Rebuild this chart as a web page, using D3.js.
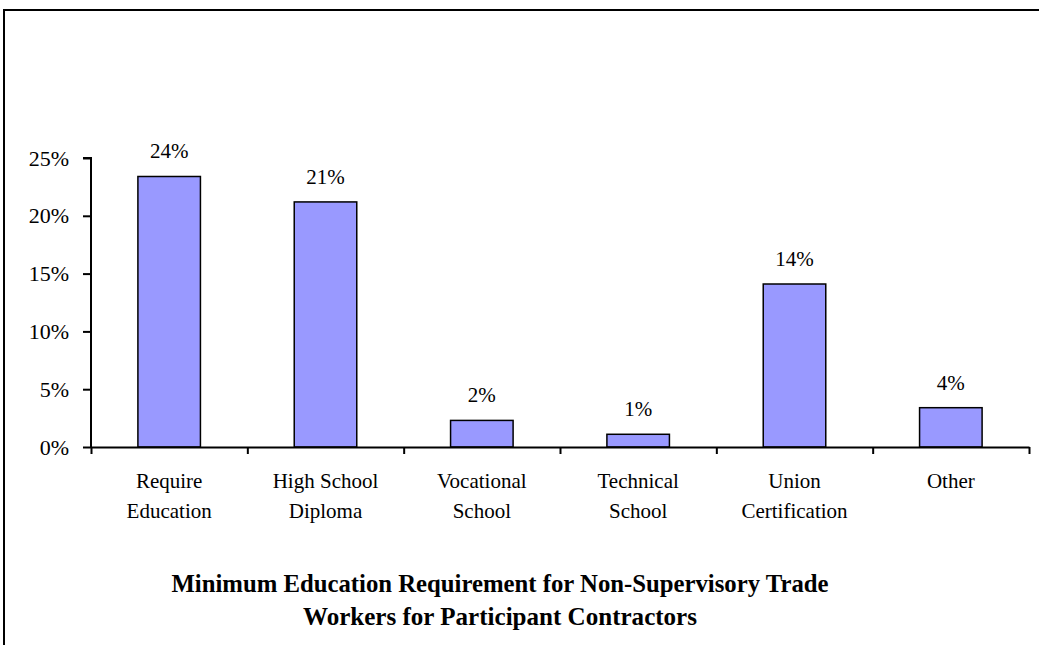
<!DOCTYPE html>
<html><head><meta charset="utf-8">
<script src="https://cdn.jsdelivr.net/npm/d3@7"></script>
<style>html,body{margin:0;padding:0;background:#fff;overflow:hidden}</style>
</head><body>
<script>
const categories = [["Require","Education"],["High School","Diploma"],["Vocational","School"],["Technical","School"],["Union","Certification"],["Other"]];
const values = [23.4, 21.2, 2.3, 1.1, 14.1, 3.4];
const valueLabels = ["24%","21%","2%","1%","14%","4%"];
const yTicks = [0,5,10,15,20,25];
const titleLines = ["Minimum Education Requirement for Non-Supervisory Trade","Workers for Participant Contractors"];

const W = 1039, H = 645;
const svg = d3.select("body").append("svg").attr("width", W).attr("height", H);
const font = "'Liberation Serif','Times New Roman',serif";

svg.append("rect").attr("x",4).attr("y",10).attr("width",1100).attr("height",700)
  .attr("fill","none").attr("stroke","#000").attr("stroke-width",2);

const x0 = 91, x1 = 1029, yBase = 447, yTop = 158;
const x = d3.scaleBand().domain(d3.range(categories.length)).range([x0, x1]).paddingInner(0.6).paddingOuter(0.3);
const y = d3.scaleLinear().domain([0,25]).range([yBase, yTop]);

// bars
svg.selectAll("rect.bar").data(values).join("rect").attr("class","bar")
  .attr("x",(d,i)=>x(i)).attr("width",x.bandwidth())
  .attr("y",d=>y(d)).attr("height",d=>yBase-y(d))
  .attr("fill","#9999ff").attr("stroke","#000").attr("stroke-width",1.5);

// value labels
svg.selectAll("text.vl").data(values).join("text").attr("class","vl")
  .attr("x",(d,i)=>x(i)+x.bandwidth()/2).attr("y",d=>y(d)-18)
  .attr("text-anchor","middle").style("font-family",font).style("font-size","21px").attr("fill","#000")
  .text((d,i)=>valueLabels[i]);

// y axis
const yAxis = svg.append("g").attr("transform",`translate(${x0},0)`)
  .call(d3.axisLeft(y).tickValues(yTicks).tickFormat(d=>d+"%").tickSize(8).tickPadding(14));
yAxis.select(".domain").attr("stroke","#000").attr("stroke-width",2).attr("d",`M-8,${yTop}H0V${yBase}`);
yAxis.selectAll(".tick line").attr("stroke","#000").attr("stroke-width",2);
yAxis.selectAll(".tick text").style("font-family",font).style("font-size","22px").attr("fill","#000");

// x axis
const xb = d3.scaleLinear().domain([0,categories.length]).range([x0,x1]);
const xAxis = svg.append("g").attr("transform",`translate(0,${yBase})`)
  .call(d3.axisBottom(xb).tickValues(d3.range(categories.length+1)).tickFormat("").tickSize(7).tickSizeOuter(0));
xAxis.select(".domain").attr("stroke","#000").attr("stroke-width",2);
xAxis.selectAll(".tick line").attr("stroke","#000").attr("stroke-width",2);

// category labels
categories.forEach((lines,i)=>{
  const t = svg.append("text").attr("text-anchor","middle")
    .style("font-family",font).style("font-size","21px").attr("fill","#000");
  lines.forEach((l,j)=>t.append("tspan").attr("x",xb(i+0.5)).attr("y",488+j*30).text(l));
});

// title
titleLines.forEach((l,j)=>{
  svg.append("text").attr("x",500).attr("y",592+j*33).attr("text-anchor","middle")
    .style("font-family",font).style("font-size","26px").style("font-weight","bold").attr("fill","#000")
    .attr("textLength", j===0?657:394).attr("lengthAdjust","spacingAndGlyphs").text(l);
});
</script>
</body></html>
